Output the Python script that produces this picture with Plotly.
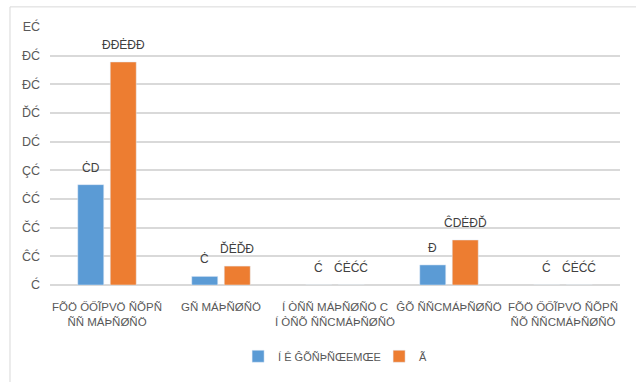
import plotly.graph_objects as go

categories = [
    "FÕÖ ŐŐĨPVÖ ÑÕPÑ<br>ÑÑ MÁÞÑØÑÖ",
    "GÑ MÁÞÑØÑÖ",
    "Í ÒÑÑ MÁÞÑØÑÖ C<br>Í ÒÑÕ ÑÑCMÁÞÑØÑÖ",
    "ĜÕ ÑÑCMÁÞÑØÑÖ",
    "FÕÖ ŐŐĨPVÖ ÑÕPÑ<br>ÑÕ ÑÑCMÁÞÑØÑÖ",
]
series_names = ["Í Ê ĜÕÑÞÑŒEMŒE", "Ã"]
blue_values = [35, 3, 0, 7, 0]
orange_values = [77.8, 6.6, 0, 15.7, 0]
blue_labels = ["ĊD", "Ċ", "Ć", "Đ", "Ć"]
orange_labels = ["ĐĐĖĐĐ", "ĎĖĎĐ", "ĆĖĆĆ", "ĈDĖĐĎ", "ĆĖĆĆ"]
y_tick_values = [0, 10, 20, 30, 40, 50, 60, 70, 80, 90]
y_tick_labels = ["Ć", "ĈĆ", "ČĆ", "ĊĆ", "ÇĆ", "DĆ", "ĎĆ", "ĐĆ", "ĐĆ", "EĆ"]

FONT = "Liberation Sans Narrow, Arial Narrow, Liberation Sans, Arial, sans-serif"
GREY = "#595959"
BLUE = "#5b9bd5"
ORANGE = "#ed7d31"

fig = go.Figure()
fig.add_trace(go.Bar(x=categories, y=blue_values, name=series_names[0],
                     marker=dict(color=BLUE)))
fig.add_trace(go.Bar(x=categories, y=orange_values, name=series_names[1],
                     marker=dict(color=ORANGE)))

annotations = []
for cat, val, lab in zip(categories, blue_values, blue_labels):
    annotations.append(dict(x=cat, y=val, text=lab, showarrow=False, xref="x", yref="y",
                            yanchor="bottom", xshift=-16.3, yshift=8,
                            font=dict(color="#404040", size=12, family=FONT)))
for cat, val, lab in zip(categories, orange_values, orange_labels):
    annotations.append(dict(x=cat, y=val, text=lab, showarrow=False, xref="x", yref="y",
                            yanchor="bottom", xshift=16.3, yshift=8,
                            font=dict(color="#404040", size=12, family=FONT)))

fig.update_layout(
    width=636, height=382,
    margin=dict(l=50, r=16, t=27, b=97, autoexpand=False),
    paper_bgcolor="white", plot_bgcolor="white",
    barmode="group", bargap=0.43, bargroupgap=0.2,
    font=dict(family=FONT, size=12, color=GREY),
    showlegend=True,
    legend=dict(orientation="h", x=0.33, xanchor="left", y=-0.22, yanchor="top",
                entrywidth=96, entrywidthmode="pixels",
                font=dict(size=11, color=GREY, family=FONT),
                traceorder="normal"),
    annotations=annotations,
    xaxis=dict(showgrid=False, showline=True, linecolor="#d9d9d9", linewidth=1,
               ticks="", tickangle=0, automargin=False, ticklabelstandoff=11,
               tickfont=dict(size=11.5, color=GREY, family=FONT)),
    yaxis=dict(range=[0, 90], tickvals=y_tick_values, ticktext=y_tick_labels,
               showgrid=True, gridcolor="#d9d9d9", gridwidth=1.5,
               zeroline=True, zerolinecolor="#d9d9d9", zerolinewidth=1.5,
               showline=False, ticks="", ticklen=0, automargin=False,
               ticklabelstandoff=9,
               tickfont=dict(size=12.5, color=GREY, family=FONT)),
    shapes=[dict(type="rect", xref="paper", yref="paper",
                 x0=-0.0702, x1=1.05, y0=-0.45, y1=1.078,
                 line=dict(color="#d9d9d9", width=1), fillcolor="rgba(0,0,0,0)",
                 layer="below")],
)

fig.write_html("out.html")
